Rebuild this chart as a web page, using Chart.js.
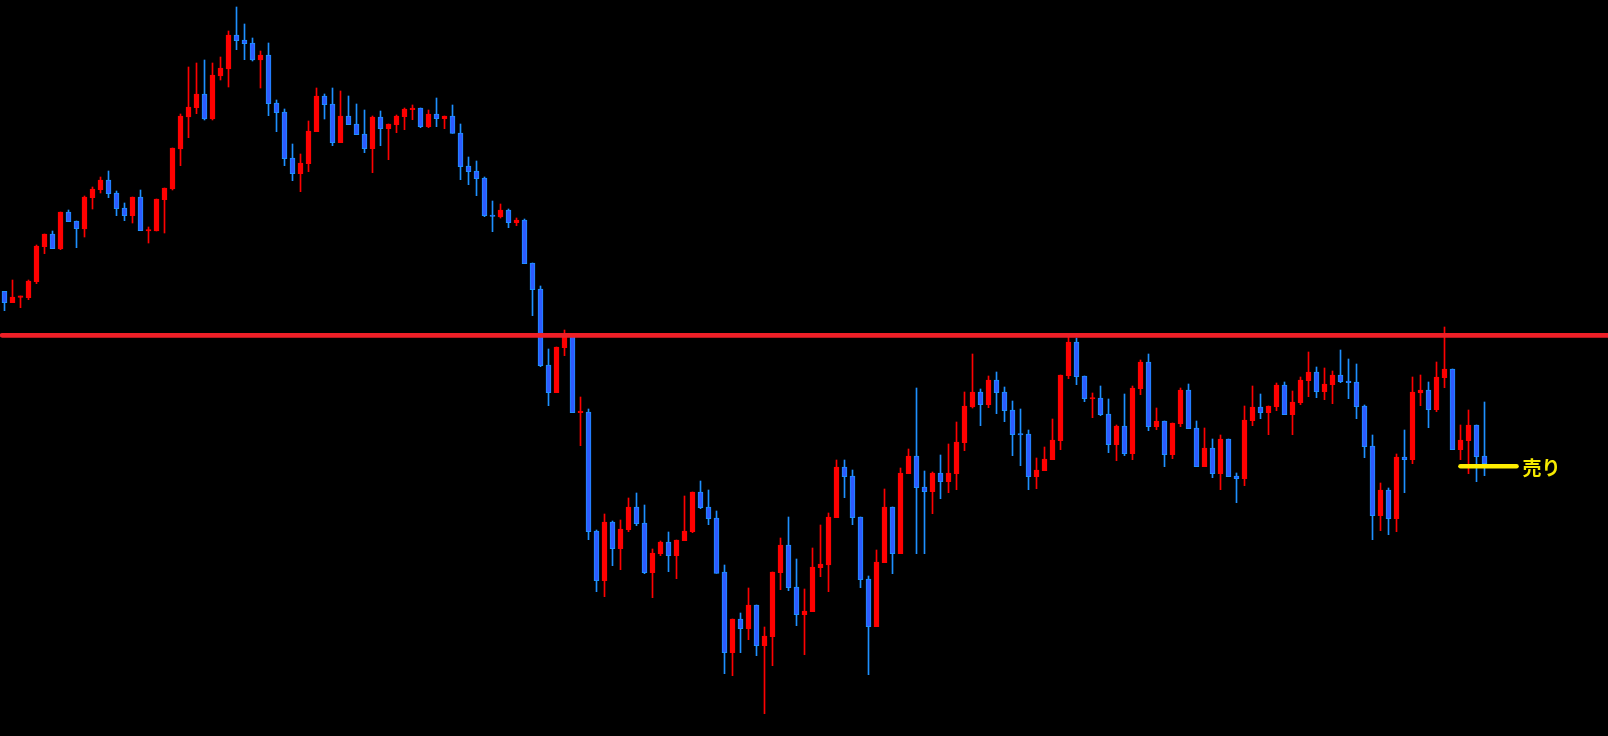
<!DOCTYPE html>
<html>
<head>
<meta charset="utf-8">
<script src="https://cdn.jsdelivr.net/npm/chart.js@4/dist/chart.umd.min.js"></script>
<style>
html,body{margin:0;padding:0;background:#000;overflow:hidden;}
#wrap{position:relative;width:1608px;height:736px;background:#000;}
</style>
</head>
<body>
<div id="wrap"><canvas id="c" width="1608" height="736"></canvas></div>
<script>
// Candle OHLC values (price levels, arbitrary units)
const opens = [444.7,433.3,438.7,438.3,454.3,489.3,502,487,524,515,507,538.3,546.3,556,543,528,520.3,539,505,505,
536.3,547,587,619,628.3,642,617,660,667,701,696,693,676,681,633,624,578,562.3,572.3,604.3,
640,632,593.3,620,612,602,587.3,619,607.3,611.3,619.3,626.3,628,609.3,622,617.3,620,603,570,565,
558,521,519,526,513.3,516,473,447,371,343.3,388.3,400,323.3,324,205,155.3,214,187.3,206.3,229,
213,163.3,182.3,194,180.3,195.3,204.3,244,229,218,164,83.3,117,107.3,131,90.3,99.3,163.3,191,149,
121.3,124.3,168.3,171,218.3,269,260,219,157,109.3,173.3,229,182.3,262.3,280,249,244.3,263,254.3,262.3,
293.3,329,344,331.3,356,344,326,302,302,259.3,265.3,276.3,295.3,360.3,394,360,337,338,322,291.3,
310,282.3,347.3,374,309.3,315,281.3,312.3,346,308,269.3,288,262.3,297,260,257.3,315.3,329,323.3,329.3,
351,321.3,333.3,355.3,364,344.3,351.3,361,355,354,330,290,220.3,246,217.3,279,276.3,343,346,326.3,
358.3,367,286.3,295.3,311,280];
const highs = [444.7,456,440,456,491,502,505,524,526,515,540,549,559,565,545,533,539,546,509,537,
548,588,622,669,673,676,673,679,705,729,712,698,685,693,636,627,592,582,615,648,
642,648,645,640,632,626,620,625,612,621,628,631,628,626,638,620,631,612,579,575,
559,535,532,527,518,517,473,450,387,389,406,401,339,327,206,222,215,216,238,243,
231,187,195,204,196,240,244,255,246,225,171,117,123,148,131,109,164,198,219,177,
147,188,211,223,276,276,266,219,160,186,247,229,268,287,348,265,264,281,292,314,
344,382,347,360,364,349,335,327,306,278,289,317,361,400,398,360,343,350,337,311,
342,350,376,382,328,315,313,348,352,315,308,297,301,297,263,330,350,342,330,353,
354,345,359,384,369,368,365,386,377,372,331,301,253,248,282,306,359,361,354,374,
409,367,311,326,311,334];
const lows = [425.3,433.3,428.3,436.3,452.3,482.3,487.3,486.3,514.3,488.3,499,527,543,538.3,520.3,515.3,513,505.3,493,505,
503,546,570.3,598.3,622.3,616,616,656,649,686.3,676.3,675,648,620.3,604.3,570.3,555.3,544.3,564.3,604.3,
617,590.3,593.3,611.3,601.3,583.3,563.3,590.3,576.3,603.3,606.3,616.3,608.3,608.3,609.3,607.3,602.7,556.3,551.3,540.3,
519.3,504.3,518,508.3,510.3,472.3,420.3,369.3,330.3,343.3,380.3,323.3,290.3,196.3,144.3,139.3,170.3,166.3,204.3,210.3,
162.3,138.3,180.3,164.3,157.3,195.3,203.3,227.3,211.3,162.7,62.3,60.3,83.3,96.3,80.3,22.3,70.3,146.3,145.3,110.3,
81.3,124.3,159.3,144.3,218.3,238.3,211.3,148.3,61.3,109.3,173.3,162.3,182.3,262.3,182.3,182.3,222.3,237.3,243.3,246.3,
285.3,328,310.3,328.3,322.3,314.3,280.3,270.3,246.3,247.3,265.3,276.3,286.3,357.3,351.3,334.3,318.3,320.3,283.3,275.3,
280.3,276.3,341.3,305.3,306.3,269.3,277.3,309.3,307.3,269.3,269.3,258.3,246.3,259.3,233.3,250.3,310.3,317.3,301.3,325.3,
321.3,301.3,331.3,339.3,338.3,336.3,332.3,353.3,337.3,317.3,278.3,196.3,205.3,201.3,204.3,243.3,272.3,330.3,308.3,324.3,
348.3,286.3,276.3,262.3,254.3,260.3];
const closes = [433.3,439,440,455,490,502,487.3,524,514.3,507.3,539,547,556,542.3,527.3,520.3,539,505.3,506.3,537,
548,588,620,629,642,617,661,668,701,695.3,692.3,676,681,632.3,623.3,577.3,562.3,573,605,640,
631.3,593.3,620,611.3,601.3,587.3,619,607.3,612,620,627,628,609.3,622,617.3,620,602.7,569.3,564.3,557.3,
520.3,519.5,526,513.3,516,472.3,446.3,370.3,343.3,389,400,323.3,324.3,204.3,155.3,214,187.3,207,229,212.3,
163.3,183,194,180.3,196,205,244,228.3,217.3,162.7,83.3,117,107.3,131,90.3,100,164,191,148.3,121.3,
125,169,172,219,269,259.3,218.3,156.3,109.3,174,229,182.3,263,280,248.3,244.3,263,254.3,263,294,
330,344,331.3,356,343.3,325.3,301.3,301,259.3,266,277,296,361,394,359.3,337.3,338,321.3,291.3,310,
282.3,348,374,309.3,315,281.3,313,346,307.3,269.3,288,262.3,297,259.3,257.3,316,329,323.3,330,351,
321.3,334,356,364,344.3,352,361,354.3,353.3,329.3,289.3,220.3,246,217.3,279,276.3,344,346,326.3,359,
367,286.3,296,311,279.3,272.3];
// Horizontal resistance level and sell marker
const resistanceLevel = 400.7;
const sellLevel = 269.7;
const sellFrom = 182.0;
const sellTo = 189.0;
const sellLabel = '売り';

const RED = '#ff0000';
const BLUE_FILL = '#2e5bff';
const BLUE_EDGE = '#1e90ff';

const bodies = opens.map((o, i) => ({x: i, y: [o, closes[i]]}));
const wicks = highs.map((h, i) => ({x: i, y: [lows[i], h]}));
const isUp = opens.map((o, i) => closes[i] >= o);

const labelPlugin = {
  id: 'sellLabel',
  afterDatasetsDraw(chart) {
    const {ctx, scales} = chart;
    const x = scales.x.getPixelForValue(sellTo) + 6;
    const y = scales.y.getPixelForValue(sellLevel);
    ctx.save();
    ctx.fillStyle = '#f5e900';
    ctx.font = 'bold 19px "Noto Sans CJK JP", "Noto Sans", sans-serif';
    ctx.textBaseline = 'middle';
    ctx.textAlign = 'left';
    ctx.fillText(sellLabel, x, y + 1);
    ctx.restore();
  }
};

new Chart(document.getElementById('c'), {
  data: {
    datasets: [
      {
        type: 'bar',
        label: 'wick',
        data: wicks,
        grouped: false,
        barThickness: 1,
        backgroundColor: isUp.map(u => u ? RED : BLUE_EDGE),
        borderWidth: 0,
        order: 3
      },
      {
        type: 'bar',
        label: 'body',
        data: bodies,
        grouped: false,
        barThickness: 5,
        minBarLength: 1.5,
        backgroundColor: isUp.map(u => u ? RED : BLUE_FILL),
        borderColor: isUp.map(u => u ? RED : BLUE_EDGE),
        borderWidth: 1,
        borderSkipped: false,
        order: 2
      },
      {
        type: 'line',
        label: 'resistance',
        data: [{x: -0.3, y: resistanceLevel}, {x: 202, y: resistanceLevel}],
        borderColor: '#ee1f27',
        borderWidth: 4.7,
        borderCapStyle: 'round',
        pointRadius: 0,
        order: 1
      },
      {
        type: 'line',
        label: 'sell',
        data: [{x: sellFrom, y: sellLevel}, {x: sellTo, y: sellLevel}],
        borderColor: '#ffee00',
        borderWidth: 4.6,
        borderCapStyle: 'round',
        pointRadius: 0,
        order: 0
      }
    ]
  },
  options: {
    responsive: false,
    animation: false,
    layout: {padding: 0},
    plugins: {legend: {display: false}, tooltip: {enabled: false}},
    scales: {
      x: {type: 'linear', min: -0.5625, max: 200.4375, display: false, offset: false},
      y: {type: 'linear', min: 0, max: 736, display: false}
    }
  },
  plugins: [labelPlugin]
});
</script>
</body>
</html>
